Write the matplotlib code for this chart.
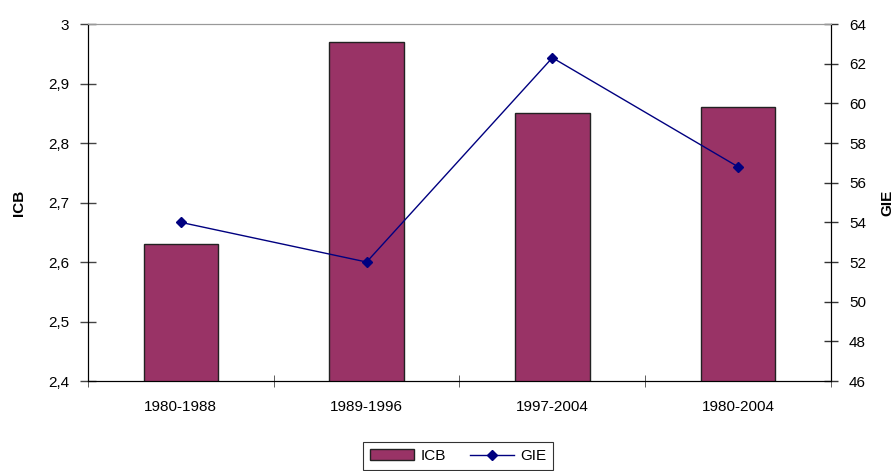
import numpy as np
import matplotlib.pyplot as plt

# Data
periods = ['1980-1988', '1989-1996', '1997-2004', '1980-2004']
icb = [2.63, 2.97, 2.85, 2.86]
gie = [54.0, 52.0, 62.3, 56.8]
icb_ticks = [2.4, 2.5, 2.6, 2.7, 2.8, 2.9, 3.0]
icb_labels = ['2,4', '2,5', '2,6', '2,7', '2,8', '2,9', '3']

plt.rcParams['font.family'] = ['Liberation Sans', 'DejaVu Sans']
plt.rcParams['font.size'] = 11

fig = plt.figure(figsize=(8.93, 4.71), dpi=100)
ax = fig.add_axes([0.0985, 0.191, 0.8321, 0.758])
x = np.arange(len(periods))

bars = ax.bar(x, icb, width=0.4, color='#993366', edgecolor='#222222', linewidth=1.0,
              label='ICB', zorder=2)
ax.set_xlim(-0.5, len(periods) - 0.5)
ax.set_ylim(2.4, 3.0)
ax.set_yticks(icb_ticks)
ax.set_yticklabels(icb_labels)
ax.set_ylabel('ICB', fontweight='bold', labelpad=16)

ax.set_xticks(x)
ax.set_xticklabels(periods)
ax.tick_params(axis='x', length=0, pad=14)
ax.set_xticks(np.arange(-0.5, len(periods) + 0.5, 1), minor=True)
ax.tick_params(axis='x', which='minor', length=8, direction='inout', color='#444444')
ax.tick_params(axis='y', length=11, direction='inout', color='#444444', width=1, pad=8)

for s in ['left', 'right', 'bottom']:
    ax.spines[s].set_color('black')
ax.spines['top'].set_color('#999999')

ax2 = ax.twinx()
line, = ax2.plot(x, gie, color='#000080', marker='D', markersize=5, linewidth=1.0,
                 label='GIE', zorder=3)
ax2.set_ylim(46, 64)
ax2.set_yticks(np.arange(46, 65, 2))
ax2.set_ylabel('GIE', fontweight='bold', labelpad=10)
ax2.tick_params(axis='y', length=10, direction='inout', color='#333333', width=1, pad=8)
ax2.spines['top'].set_color('#999999')

leg = fig.legend([bars, line], ['ICB', 'GIE'], loc='center', bbox_to_anchor=(0.513, 0.032),
                 ncol=2, frameon=True, fancybox=False, edgecolor='black',
                 handlelength=2.9, columnspacing=1.6, handletextpad=0.4,
                 borderpad=0.45, borderaxespad=0)
leg.get_frame().set_linewidth(0.8)

fig.savefig('out.png', dpi=100)
